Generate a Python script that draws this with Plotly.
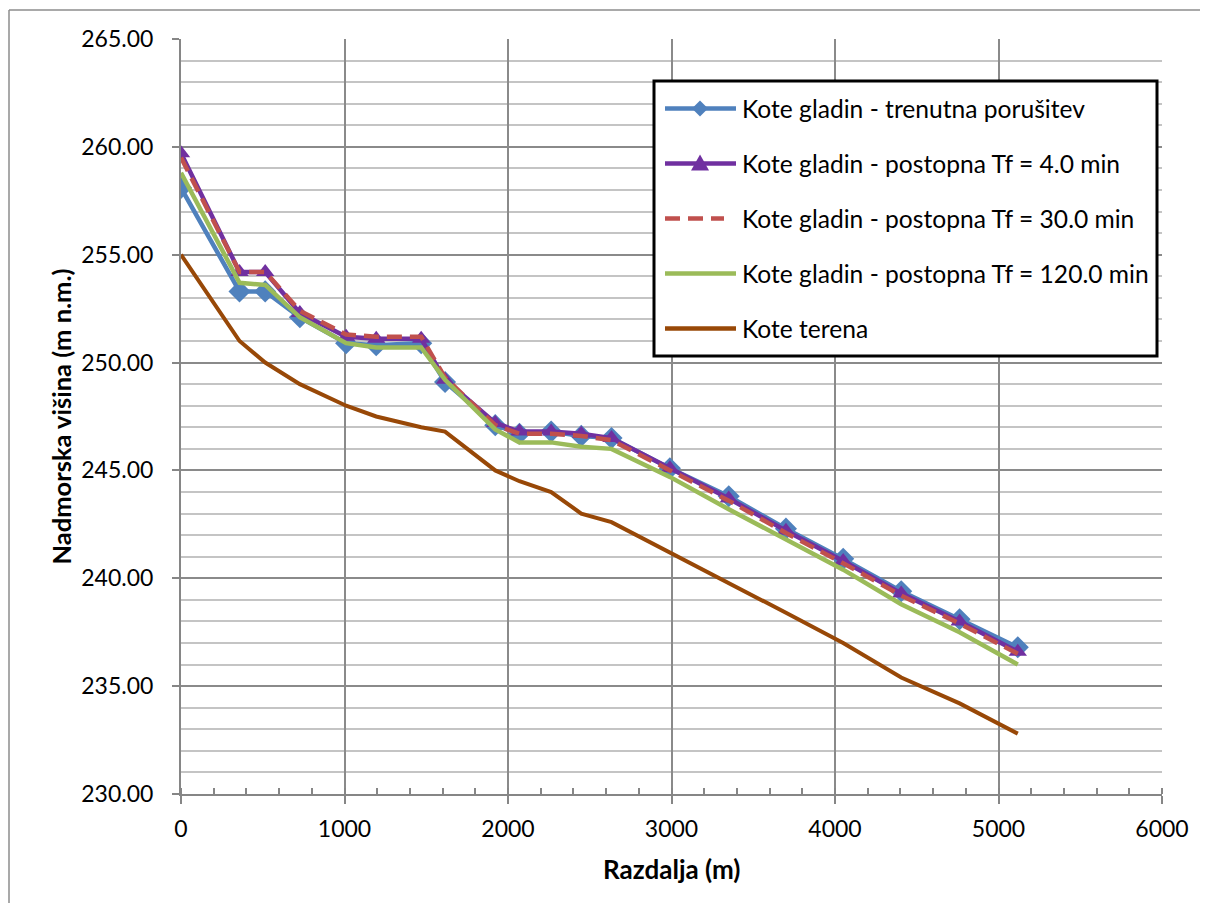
import plotly.graph_objects as go

# ---------------- data ----------------
razdalja = [0, 358, 515, 727, 1010, 1194, 1469, 1615, 1922, 2070, 2264, 2448,
            2633, 2990, 3350, 3700, 4050, 4405, 4762, 5118]

trenutna = [258.1, 253.3, 253.3, 252.1, 250.9, 250.8, 250.9, 249.1, 247.1, 246.7,
            246.8, 246.6, 246.5, 245.1, 243.8, 242.3, 240.9, 239.4, 238.1, 236.8]
tf_4 = [259.7, 254.2, 254.2, 252.3, 251.2, 251.1, 251.1, 249.2, 247.2, 246.8,
        246.8, 246.7, 246.5, 245.1, 243.7, 242.2, 240.8, 239.3, 238.0, 236.6]
tf_30 = [259.5, 254.2, 254.2, 252.4, 251.3, 251.2, 251.2, 249.3, 247.1, 246.7,
         246.7, 246.6, 246.4, 245.0, 243.6, 242.1, 240.7, 239.2, 237.9, 236.5]
tf_120 = [258.8, 253.7, 253.6, 252.1, 250.9, 250.7, 250.7, 249.2, 246.9, 246.3,
          246.3, 246.1, 246.0, 244.7, 243.2, 241.8, 240.4, 238.8, 237.5, 236.0]
teren = [255.0, 251.0, 250.0, 249.0, 248.0, 247.5, 247.0, 246.8, 245.0, 244.5,
         244.0, 243.0, 242.6, 241.2, 239.8, 238.4, 237.0, 235.4, 234.2, 232.8]

names = ["Kote gladin - trenutna porušitev",
         "Kote gladin - postopna Tf = 4.0 min",
         "Kote gladin - postopna Tf = 30.0 min",
         "Kote gladin - postopna Tf = 120.0 min",
         "Kote terena"]

x_ticks = [0, 1000, 2000, 3000, 4000, 5000, 6000]
y_ticks = [230, 235, 240, 245, 250, 255, 260, 265]

# ---------------- styles ----------------
C_BLUE = "#4F81BD"
C_PURPLE = "#7030A0"
C_RED = "#C0504D"
C_GREEN = "#9BBB59"
C_BROWN = "#984807"
FONT = "Lato"

# page body has an 8px margin: figure is drawn offset by 8px and sized to fit the window
OFF = 8
W, H = 1200, 895
L, R, T, B = 173, 46, 31, 109
PW, PH = W - L - R, H - T - B


def px(x):
    # x in page pixels -> paper
    return (x - OFF - L) / PW


def py(y):
    # y in page pixels -> paper
    return (H - B - (y - OFF)) / PH


fig = go.Figure()
fig.add_trace(go.Scatter(x=razdalja, y=trenutna, name=names[0], mode="lines+markers",
                         line=dict(color=C_BLUE, width=4.5),
                         marker=dict(symbol="diamond", size=17, color=C_BLUE)))
fig.add_trace(go.Scatter(x=razdalja, y=tf_4, name=names[1], mode="lines+markers",
                         line=dict(color=C_PURPLE, width=4.5),
                         marker=dict(symbol="triangle-up", size=16, color=C_PURPLE)))
fig.add_trace(go.Scatter(x=razdalja, y=tf_30, name=names[2], mode="lines",
                         line=dict(color=C_RED, width=4.5, dash="15px,8px")))
fig.add_trace(go.Scatter(x=razdalja, y=tf_120, name=names[3], mode="lines",
                         line=dict(color=C_GREEN, width=4.5)))
fig.add_trace(go.Scatter(x=razdalja, y=teren, name=names[4], mode="lines",
                         line=dict(color=C_BROWN, width=4)))

shapes = []
annotations = []

# outer chart border (only left and top edges are visible in the window)
shapes.append(dict(type="line", xref="paper", yref="paper",
                   x0=px(9), x1=px(9), y0=py(10), y1=py(911),
                   line=dict(color="#8c8c8c", width=1.5), layer="below"))
shapes.append(dict(type="line", xref="paper", yref="paper",
                   x0=px(9), x1=px(1208), y0=py(10), y1=py(10),
                   line=dict(color="#8c8c8c", width=1.5), layer="below"))

# custom legend
box = (654, 81, 1157, 356)
shapes.append(dict(type="rect", xref="paper", yref="paper",
                   x0=px(box[0]), x1=px(box[2]), y0=py(box[1]), y1=py(box[3]),
                   line=dict(color="black", width=3), fillcolor="white"))
rows = [108.5, 163.5, 218.5, 273.5, 328.5]
colors = [C_BLUE, C_PURPLE, C_RED, C_GREEN, C_BROWN]
for i, (ry, c) in enumerate(zip(rows, colors)):
    dash = "15px,8px" if i == 2 else "solid"
    x_end = 724 if i == 2 else 736
    shapes.append(dict(type="line", xref="paper", yref="paper",
                       x0=px(665), x1=px(x_end), y0=py(ry), y1=py(ry),
                       line=dict(color=c, width=4.5, dash=dash)))
    annotations.append(dict(text=names[i], xref="paper", yref="paper",
                            x=px(740), y=py(ry), xanchor="left", yanchor="middle",
                            showarrow=False, font=dict(family=FONT, size=24.6, color="black")))
# legend markers
shapes.append(dict(type="path", xref="paper", yref="paper",
                   xsizemode="pixel", ysizemode="pixel",
                   xanchor=px(700), yanchor=py(rows[0]),
                   path="M-8,0 L0,8 L8,0 L0,-8 Z",
                   fillcolor=C_BLUE, line=dict(color=C_BLUE, width=0)))
shapes.append(dict(type="path", xref="paper", yref="paper",
                   xsizemode="pixel", ysizemode="pixel",
                   xanchor=px(700), yanchor=py(rows[1]),
                   path="M-9,-7 L9,-7 L0,9 Z",
                   fillcolor=C_PURPLE, line=dict(color=C_PURPLE, width=0)))

# axis titles
annotations.append(dict(text="<b>Razdalja (m)</b>", xref="paper", yref="paper",
                        x=0.5, y=py(869), xanchor="center", yanchor="middle",
                        showarrow=False, font=dict(family=FONT, size=26, color="black")))
annotations.append(dict(text="<b>Nadmorska višina (m n.m.)</b>", xref="paper", yref="paper",
                        x=px(60), y=0.5, xanchor="center", yanchor="middle", textangle=-90,
                        showarrow=False, font=dict(family=FONT, size=25.5, color="black")))

fig.update_layout(
    width=W, height=H,
    margin=dict(l=L, r=R, t=T, b=B, pad=0),
    paper_bgcolor="white", plot_bgcolor="white",
    showlegend=False,
    shapes=shapes, annotations=annotations,
    font=dict(family=FONT, size=23, color="black"),
)

fig.update_xaxes(range=[0, 6000], tickvals=x_ticks, ticktext=[str(v) for v in x_ticks],
                 showline=True, linecolor="#868686", linewidth=2,
                 showgrid=True, gridcolor="#8a8a8a", gridwidth=1.8,
                 ticks="outside", ticklen=8, tickwidth=2, tickcolor="#868686",
                 ticklabelstandoff=5,
                 tickfont=dict(family=FONT, size=23, color="black"),
                 zeroline=False,
                 minor=dict(dtick=200, tick0=0, ticks="inside", ticklen=6, tickwidth=2,
                            tickcolor="#868686", showgrid=False))
fig.update_yaxes(range=[230, 265], tickvals=y_ticks, ticktext=[f"{v:.2f}" for v in y_ticks],
                 showline=True, linecolor="#868686", linewidth=2,
                 showgrid=True, gridcolor="#8a8a8a", gridwidth=1.8,
                 ticks="outside", ticklen=7, tickwidth=2, tickcolor="#868686",
                 ticklabelstandoff=14,
                 tickfont=dict(family=FONT, size=23, color="black"),
                 zeroline=False,
                 minor=dict(dtick=1, tick0=230, showgrid=True, gridcolor="#c4c4c4",
                            gridwidth=1.8, ticks=""))

fig.write_html("out.html", post_script="document.body.style.overflow='hidden';")
